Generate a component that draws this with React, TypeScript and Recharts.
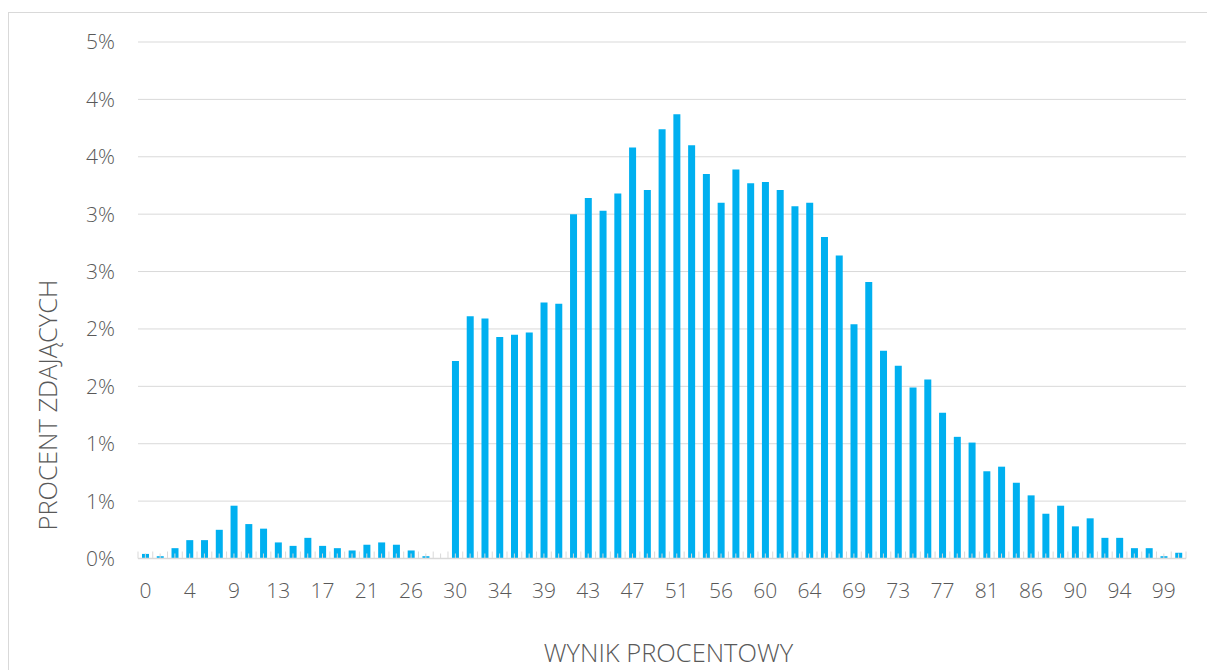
import { BarChart, Bar, XAxis, YAxis, CartesianGrid } from 'recharts'

const scoreLabels = [
  '0', '1', '3', '4', '6', '7', '9', '10', '11', '13', '14', '16', '17', '19', '20', '21', '23', '24',
  '26', '27', '29', '30', '31', '33', '34', '36', '37', '39', '40', '41', '43', '44', '46', '47', '49',
  '50', '51', '53', '54', '56', '57', '59', '60', '61', '63', '64', '66', '67', '69', '70', '71', '73',
  '74', '76', '77', '79', '80', '81', '83', '84', '86', '87', '89', '90', '91', '93', '94', '96', '97',
  '99', '100'
]

// percent of candidates per score
const shares = [
  0.04, 0.02, 0.09, 0.16, 0.16, 0.25, 0.46, 0.3, 0.26, 0.14, 0.11, 0.18, 0.11, 0.09, 0.07, 0.12, 0.14,
  0.12, 0.07, 0.02, 0, 1.72, 2.11, 2.09, 1.93, 1.95, 1.97, 2.23, 2.22, 3.0, 3.14, 3.03, 3.18, 3.58,
  3.21, 3.74, 3.87, 3.6, 3.35, 3.1, 3.39, 3.27, 3.28, 3.21, 3.07, 3.1, 2.8, 2.64, 2.04, 2.41, 1.81,
  1.68, 1.49, 1.56, 1.27, 1.06, 1.01, 0.76, 0.8, 0.66, 0.55, 0.39, 0.46, 0.28, 0.35, 0.18, 0.18, 0.09,
  0.09, 0.02, 0.05
]

const yTicks = [0, 0.5, 1, 1.5, 2, 2.5, 3, 3.5, 4, 4.5]

const data = scoreLabels.map((score, i) => ({ score, share: shares[i] }))

const FONT = '"Open Sans", sans-serif'
const TEXT = '#595959'
const GRID = '#d9d9d9'
const PLOT_LEFT = 138
const PLOT_RIGHT = 1186
const BAND = (PLOT_RIGHT - PLOT_LEFT) / scoreLabels.length

function ScoreTick(props: any) {
  const { x, y, payload, index } = props
  const last = index === scoreLabels.length - 1
  return (
    <g>
      <line x1={x - BAND / 2} x2={x - BAND / 2} y1={y} y2={y - 7} stroke={GRID} />
      <line x1={x} x2={x} y1={y} y2={y - 5} stroke={GRID} />
      {last && <line x1={x + BAND / 2} x2={x + BAND / 2} y1={y} y2={y - 7} stroke={GRID} />}
      {index % 3 === 0 && (
        <text x={x} y={y + 25} dy="0.71em" textAnchor="middle" fill={TEXT} fontSize={21} fontFamily={FONT} fontWeight={300}>
          {payload.value}
        </text>
      )}
    </g>
  )
}

const titleStyle = {
  position: 'absolute' as const,
  whiteSpace: 'nowrap' as const,
  color: TEXT,
  fontFamily: FONT,
  fontWeight: 300,
  fontSize: 25.5,
  lineHeight: 1
}

export default function App() {
  return (
    <div style={{ position: 'absolute', left: 0, top: 0, width: 1207, height: 670, overflow: 'hidden', background: '#fff' }}>
      <div
        style={{ position: 'absolute', left: 8, top: 12, width: 1200, height: 700, border: `1px solid ${GRID}`, boxSizing: 'border-box' }}
      />
      <div style={{ position: 'absolute', left: 0, top: 0 }}>
        <BarChart width={1207} height={670} data={data} margin={{ top: 42, right: 21, bottom: 0, left: 0 }} barCategoryGap="27%">
          <CartesianGrid vertical={false} stroke={GRID} />
          <Bar dataKey="share" fill="#00B0F0" isAnimationActive={false} />
          <YAxis
            type="number"
            domain={[0, 4.5]}
            ticks={yTicks}
            width={PLOT_LEFT}
            axisLine={false}
            tickLine={false}
            tickSize={0}
            tickMargin={23}
            tickFormatter={(v: number) => `${Math.round(v)}%`}
            tick={{ fill: TEXT, fontSize: 21, fontFamily: FONT, fontWeight: 300 }}
          />
          <XAxis
            dataKey="score"
            height={111.5}
            interval={0}
            axisLine={{ stroke: GRID, strokeWidth: 1.5 }}
            tickLine={false}
            tickSize={0}
            tickMargin={0}
            tick={<ScoreTick />}
          />
        </BarChart>
      </div>
      <div style={{ ...titleStyle, left: 668.5, top: 653, transform: 'translate(-50%, -50%)' }}>WYNIK PROCENTOWY</div>
      <div style={{ ...titleStyle, left: 48, top: 405, transform: 'translate(-50%, -50%) rotate(-90deg)' }}>
        PROCENT ZDAJĄCYCH
      </div>
    </div>
  )
}
